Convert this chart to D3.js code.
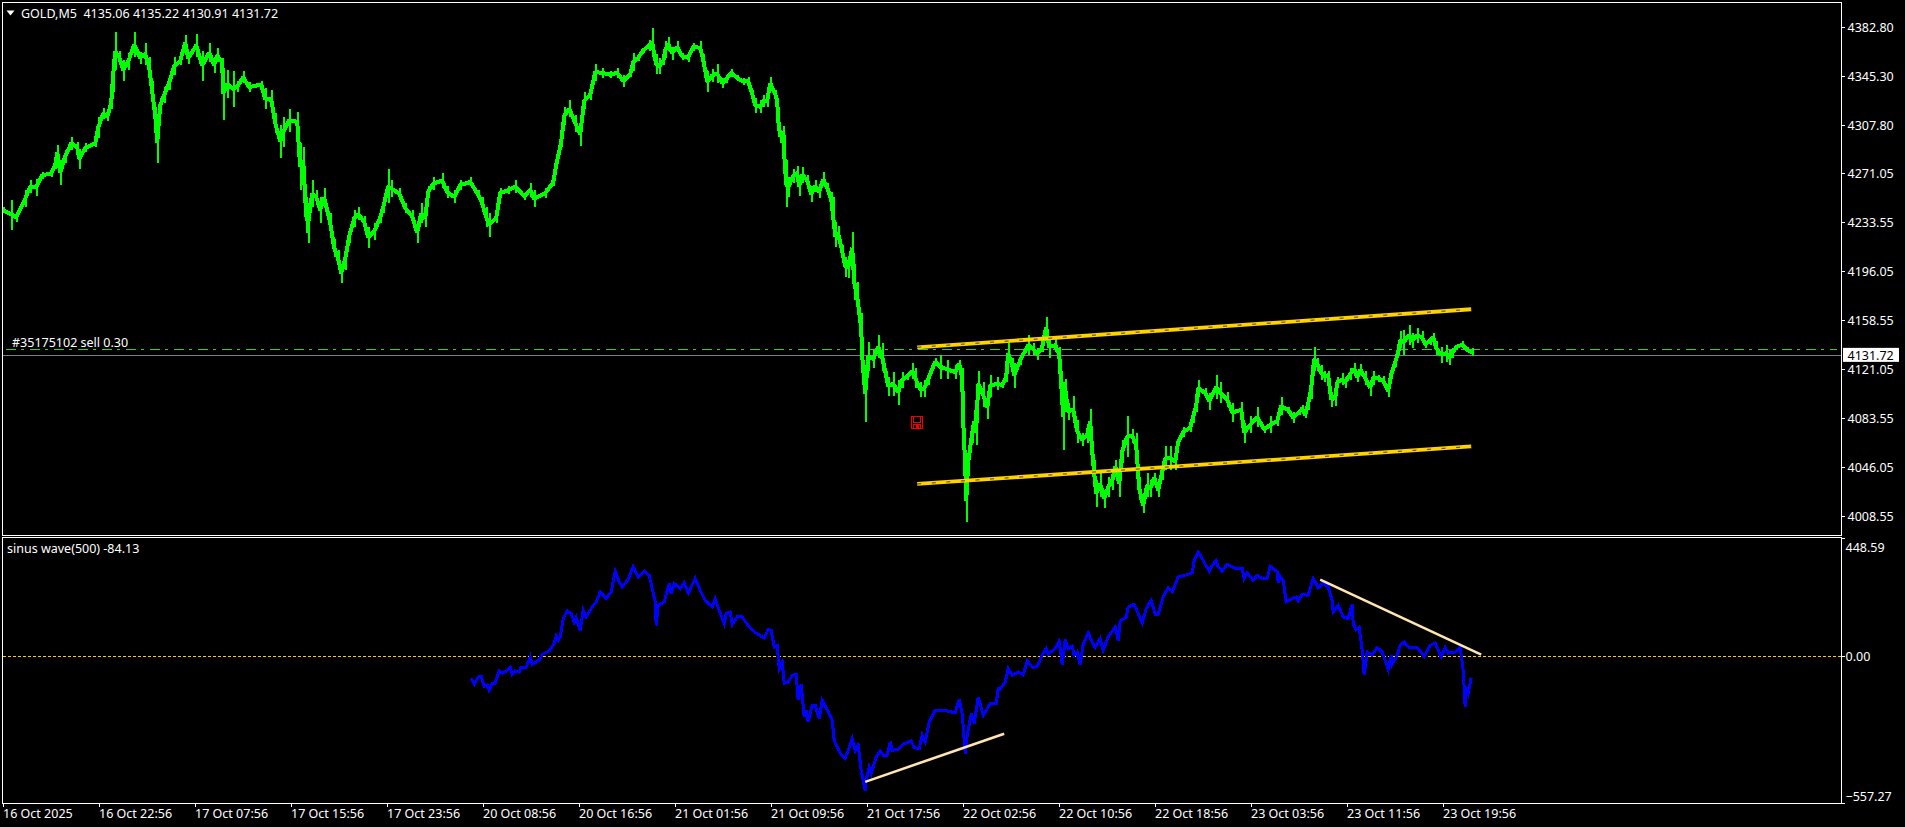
<!DOCTYPE html>
<html><head><meta charset="utf-8">
<script src="https://cdn.jsdelivr.net/npm/d3@7/dist/d3.min.js"></script>
<style>
html,body{margin:0;padding:0;background:#000;overflow:hidden}
text{font-family:"Noto Sans",Tahoma,sans-serif;font-size:12.5px;fill:#fff}
</style></head><body><svg id="c" width="1905" height="827"></svg>
<script>
const priceBars=[3,11,16,25,30,36,42,51,55,57,
60,65,71,77,79,85,95,98,103,107,
111,113,115,119,123,128,134,140,145,149,
152,155,157,160,164,169,174,180,185,188,
196,202,209,214,217,222,223,227,233,237,
243,249,261,265,271,275,280,283,289,297,
300,303,306,308,312,316,320,324,330,334,
338,341,345,349,354,358,364,368,374,380,
383,388,391,399,405,412,417,421,425,428,
433,442,447,454,460,470,478,482,486,489,
496,500,508,515,524,530,534,545,553,556,
561,564,569,575,580,584,590,595,602,610,
617,623,630,633,638,643,649,652,656,659,
663,665,668,672,677,682,688,693,700,703,
706,707,712,717,722,726,731,737,743,748,
752,755,760,763,767,770,775,777,778,780,
783,784,786,788,793,797,799,802,807,811,
815,819,823,827,831,833,835,838,842,845,
848,852,854,857,861,862,865,868,873,878,
882,886,888,893,898,902,907,912,915,920,
924,928,935,940,947,955,959,962,963,965,
966,968,972,974,976,978,983,987,990,997,
1002,1006,1008,1012,1014,1020,1028,1033,1037,1042,
1046,1049,1055,1059,1061,1063,1065,1068,1073,1077,
1082,1087,1090,1092,1094,1096,1100,1104,1108,1112,
1115,1119,1122,1127,1132,1136,1139,1143,1147,1150,
1154,1158,1162,1165,1170,1175,1178,1183,1190,1193,
1196,1198,1205,1209,1216,1220,1227,1232,1241,1244,
1250,1257,1264,1270,1277,1281,1288,1293,1299,1302,
1305,1308,1311,1314,1317,1321,1324,1328,1331,1335,
1337,1342,1345,1350,1354,1357,1360,1365,1370,1373,
1378,1383,1388,1391,1395,1398,1400,1403,1409,1412,
1417,1422,1425,1430,1433,1436,1441,1446,1449,1452,
1456,1462,1467,1472];
const priceHigh=[4245,4251,4241,4258,4266,4267,4272,4274,4281,4293,
4281,4289,4299,4295,4290,4294,4297,4314,4321,4317,
4330,4360,4379,4365,4358,4363,4379,4364,4371,4360,
4342,4322,4310,4329,4337,4346,4360,4360,4377,4363,
4378,4365,4371,4360,4367,4359,4352,4350,4349,4342,
4349,4341,4342,4336,4335,4317,4308,4314,4320,4318,
4294,4291,4253,4248,4266,4258,4253,4260,4241,4221,
4212,4202,4214,4228,4243,4245,4238,4230,4233,4241,
4249,4274,4266,4260,4248,4243,4233,4248,4243,4261,
4268,4271,4261,4258,4266,4268,4258,4253,4245,4241,
4241,4260,4261,4266,4256,4264,4258,4260,4267,4281,
4299,4322,4327,4316,4310,4333,4335,4355,4352,4349,
4352,4346,4349,4363,4362,4367,4373,4382,4362,4359,
4359,4372,4375,4368,4372,4363,4363,4371,4372,4362,
4350,4349,4351,4355,4344,4346,4351,4346,4344,4345,
4335,4329,4327,4331,4331,4345,4335,4329,4322,4304,
4307,4300,4281,4268,4274,4277,4268,4276,4270,4261,
4266,4262,4272,4264,4257,4253,4234,4231,4216,4207,
4208,4226,4202,4188,4164,4141,4123,4142,4136,4147,
4141,4120,4115,4119,4113,4119,4118,4126,4122,4111,
4113,4118,4130,4132,4128,4124,4128,4122,4103,4059,
4036,4059,4080,4090,4085,4120,4111,4100,4117,4115,
4111,4119,4141,4130,4126,4132,4147,4141,4137,4142,
4161,4146,4145,4138,4120,4111,4114,4095,4101,4082,
4072,4077,4091,4065,4052,4036,4044,4029,4039,4042,
4052,4044,4067,4085,4075,4072,4039,4023,4042,4036,
4042,4034,4049,4062,4062,4057,4069,4077,4080,4090,
4098,4113,4107,4103,4117,4111,4104,4095,4096,4080,
4085,4092,4078,4085,4085,4100,4092,4088,4091,4094,
4088,4100,4115,4138,4130,4124,4120,4120,4104,4105,
4115,4118,4115,4122,4126,4119,4125,4120,4113,4120,
4117,4116,4109,4120,4130,4136,4150,4151,4155,4149,
4153,4150,4143,4146,4149,4143,4138,4140,4136,4137,
4140,4143,4138,4137];
const priceLow=[4241,4228,4234,4245,4256,4254,4267,4268,4274,4281,
4262,4279,4289,4287,4274,4287,4291,4298,4313,4311,
4320,4333,4350,4355,4342,4350,4360,4355,4354,4344,
4325,4310,4279,4317,4325,4335,4346,4354,4365,4355,
4360,4342,4356,4348,4356,4352,4312,4329,4322,4333,
4340,4333,4336,4320,4320,4302,4283,4291,4303,4303,
4258,4271,4225,4218,4245,4248,4233,4245,4225,4207,
4199,4187,4197,4218,4230,4235,4230,4214,4220,4233,
4241,4248,4253,4251,4241,4233,4218,4233,4230,4253,
4258,4260,4252,4248,4258,4261,4251,4243,4230,4222,
4233,4252,4255,4256,4251,4253,4245,4252,4261,4274,
4291,4308,4314,4303,4292,4320,4327,4342,4344,4344,
4344,4337,4345,4349,4357,4363,4365,4360,4347,4347,
4354,4359,4365,4358,4364,4358,4356,4365,4362,4354,
4341,4333,4341,4340,4336,4340,4345,4342,4339,4338,
4329,4317,4317,4322,4322,4335,4329,4324,4302,4294,
4299,4271,4245,4253,4264,4266,4254,4264,4261,4249,
4257,4252,4261,4256,4245,4222,4215,4218,4207,4192,
4191,4202,4174,4165,4141,4122,4081,4120,4122,4130,
4120,4111,4101,4101,4094,4107,4113,4114,4107,4100,
4100,4109,4124,4114,4114,4114,4123,4107,4059,4038,
4004,4040,4065,4072,4063,4100,4092,4083,4100,4105,
4107,4111,4126,4119,4107,4124,4132,4132,4128,4134,
4146,4130,4134,4127,4100,4059,4098,4082,4080,4065,
4062,4065,4072,4052,4031,4016,4023,4015,4023,4029,
4042,4023,4049,4054,4065,4054,4021,4011,4023,4023,
4034,4023,4036,4044,4044,4044,4062,4069,4073,4080,
4088,4100,4099,4090,4098,4095,4092,4081,4084,4065,
4072,4077,4072,4072,4078,4086,4088,4080,4086,4088,
4084,4090,4098,4120,4120,4113,4111,4113,4092,4093,
4107,4109,4107,4113,4117,4111,4117,4109,4101,4109,
4111,4109,4100,4114,4123,4132,4137,4132,4140,4137,
4141,4141,4137,4140,4142,4132,4126,4127,4124,4130,
4136,4137,4134,4131];
const waveBars=[471,474,478,481,484,487,489,492,495,499,502,506,510,512,515,519,521,526,530,532,536,539,542,549,554,556,558,560,563,567,571,574,576,580,583,586,592,596,600,606,611,615,619,622,628,633,638,644,649,655,656,658,664,669,671,674,680,684,688,695,700,705,712,715,719,724,726,730,732,737,742,749,755,764,768,771,774,777,779,782,784,788,792,796,798,801,804,806,808,812,815,819,822,828,832,834,837,840,845,848,852,855,858,861,865,866,869,871,876,880,883,887,890,892,898,903,911,914,919,922,925,929,935,944,955,959,962,965,967,971,974,978,983,990,996,998,1000,1005,1008,1012,1018,1023,1027,1033,1037,1042,1046,1048,1055,1059,1062,1065,1068,1072,1074,1077,1080,1083,1088,1091,1095,1100,1103,1108,1115,1118,1120,1126,1128,1134,1138,1142,1146,1151,1155,1158,1163,1168,1172,1178,1185,1192,1194,1198,1202,1205,1209,1212,1216,1218,1222,1227,1235,1242,1244,1247,1253,1257,1262,1267,1270,1277,1278,1280,1283,1286,1292,1296,1298,1302,1308,1313,1318,1323,1328,1332,1333,1338,1343,1348,1352,1353,1356,1359,1362,1364,1367,1372,1377,1382,1388,1391,1392,1397,1400,1404,1408,1417,1424,1430,1435,1441,1445,1448,1455,1460,1463,1465,1466,1468,1471];
const waveValues=[-83,-105,-78,-75,-113,-109,-128,-101,-101,-55,-63,-55,-40,-68,-55,-59,-41,-41,-2,-30,-21,-14,8,21,49,77,61,74,144,173,163,131,148,99,175,150,188,207,245,220,245,324,283,264,292,342,302,324,308,207,118,194,207,277,239,277,258,279,241,296,251,213,188,220,175,125,163,169,122,150,150,112,91,70,103,99,36,42,-46,-21,-101,-97,-71,-68,-166,-105,-230,-204,-249,-185,-185,-236,-166,-211,-242,-318,-343,-368,-387,-356,-312,-356,-337,-432,-510,-470,-419,-444,-381,-359,-375,-375,-324,-356,-353,-333,-321,-346,-350,-299,-324,-249,-204,-204,-214,-162,-217,-368,-299,-217,-255,-154,-223,-179,-179,-122,-124,-97,-46,-71,-59,-69,-18,-42,-37,5,30,8,31,58,-30,64,30,39,5,17,-30,46,89,64,34,68,24,74,112,61,134,150,188,198,163,127,182,213,160,160,226,261,245,302,308,317,365,397,372,350,324,346,365,340,324,350,334,334,296,317,289,308,296,296,342,321,279,304,289,207,220,226,211,236,232,296,261,279,264,213,169,194,150,144,198,125,102,110,24,-71,17,5,34,17,-49,5,-30,5,42,55,36,34,1,42,51,-2,34,13,17,34,-52,-192,-116,-139,-80];
const priceTicks=[4382.80,4345.30,4307.80,4271.05,4233.55,4196.05,4158.55,4121.05,4083.55,4046.05,4008.55];
const waveTicks=[448.59,0,-557.27];
const timeLabels=["16 Oct 2025","16 Oct 22:56","17 Oct 07:56","17 Oct 15:56","17 Oct 23:56","20 Oct 08:56","20 Oct 16:56","21 Oct 01:56","21 Oct 09:56","21 Oct 17:56","22 Oct 02:56","22 Oct 10:56","22 Oct 18:56","23 Oct 03:56","23 Oct 11:56","23 Oct 19:56"];
const timeTickBars=[3,99,195,291,387,483,579,675,771,867,963,1059,1155,1251,1347,1443];
const channelBars=[917,1471];
const channelUpper=[4137.9,4167];
const channelLower=[4033.3,4062];
const waveTrendA={bars:[865,1004],values:[-476,-293]};
const waveTrendB={bars:[1320,1481],values:[292,7]};
const bidPrice=4131.72, orderPrice=4136.4;
const markerBar=[917], markerPrice=[4080];

const svg=d3.select("#c");
const x=d3.scaleLinear().domain([3,1443]).range([3.2,1443.2]);
const y=d3.scaleLinear().domain([4008.55,4382.80]).range([516.3,27.3]);
const yw=d3.scaleLinear().domain([-557.27,448.59]).range([803.3,538.3]);
const L=2.5,R=1841.5,T1=2.5,B1=535.5,T2=537.5,B2=803.5;
const prices=priceBars.map((b,i)=>({b,h:priceHigh[i],l:priceLow[i]}));
const waves=waveBars.map((b,i)=>({b,v:waveValues[i]}));

// grey bid + order lines
svg.append("line").attr("x1",L).attr("x2",R).attr("y1",y(bidPrice)).attr("y2",y(bidPrice))
  .attr("stroke","#778088").attr("stroke-width",1).attr("shape-rendering","crispEdges");
svg.append("line").attr("x1",6).attr("x2",1837).attr("y1",y(orderPrice)).attr("y2",y(orderPrice))
  .attr("stroke","#32cd32").attr("stroke-width",1).attr("stroke-dasharray","10 5 3 6").attr("shape-rendering","crispEdges");

// price: a core line through the bars' mid values plus each sampled high-low bar
svg.append("path").datum(prices)
  .attr("d",d3.line().x(d=>x(d.b)).y(d=>y((d.h+d.l)/2)))
  .attr("fill","none").attr("stroke","#00ff00").attr("stroke-width",4).attr("stroke-linejoin","bevel").attr("shape-rendering","crispEdges");
svg.append("g").selectAll("line").data(prices).join("line")
  .attr("x1",d=>Math.round(x(d.b))+.5).attr("x2",d=>Math.round(x(d.b))+.5)
  .attr("y1",d=>y(d.h)).attr("y2",d=>y(d.l))
  .attr("stroke","#00ff00").attr("stroke-width",2).attr("shape-rendering","crispEdges");

// channel
[channelUpper,channelLower].forEach(c=>{
  const ln=d3.line().x((d,i)=>x(channelBars[i])).y(d=>y(d));
  svg.append("path").datum(c).attr("d",ln).attr("fill","none").attr("stroke","#ffd200").attr("stroke-width",3.8);
  svg.append("path").datum(c).attr("d",ln).attr("fill","none").attr("stroke","#000").attr("stroke-width",.7).attr("stroke-dasharray","4 10.6");
});

// marker
const mx=x(markerBar[0]),my=y(markerPrice[0]);
const m=svg.append("g").attr("transform",`translate(${mx-5.5},${my-6})`).attr("fill","none").attr("stroke","#f00000").attr("shape-rendering","crispEdges");
m.append("rect").attr("x",0).attr("y",0).attr("width",11).attr("height",12);
m.append("rect").attr("x",2).attr("y",0).attr("width",7).attr("height",6);
m.append("rect").attr("x",2).attr("y",8).attr("width",7).attr("height",4);
m.append("rect").attr("x",5).attr("y",9).attr("width",2).attr("height",3).attr("fill","#f00");

// wave panel
svg.append("line").attr("x1",L).attr("x2",R).attr("y1",yw(0)).attr("y2",yw(0))
  .attr("stroke","#ffc800").attr("stroke-width",1).attr("stroke-dasharray","3 2").attr("shape-rendering","crispEdges");
svg.append("path").datum(waves)
  .attr("d",d3.line().x(d=>x(d.b)).y(d=>yw(d.v)))
  .attr("fill","none").attr("stroke","#0000ff").attr("stroke-width",3).attr("stroke-linejoin","miter").attr("shape-rendering","crispEdges");
[waveTrendA,waveTrendB].forEach(t=>{
  svg.append("path").datum(t.values)
    .attr("d",d3.line().x((d,i)=>x(t.bars[i])).y(d=>yw(d)))
    .attr("fill","none").attr("stroke","#ffe4b5").attr("stroke-width",2.6);
});

// frames
[[T1,B1],[T2,B2]].forEach(([a,b])=>{
  svg.append("rect").attr("x",L).attr("y",a).attr("width",R-L).attr("height",b-a)
   .attr("fill","none").attr("stroke","#fff").attr("stroke-width",1).attr("shape-rendering","crispEdges");
});

// axes
function styleAxis(g){g.select(".domain").remove();g.selectAll("line").attr("stroke","#fff").attr("shape-rendering","crispEdges");g.selectAll("text").attr("fill","#fff");}
svg.append("g").attr("transform",`translate(${R},0)`)
  .call(d3.axisRight(y).tickValues(priceTicks).tickSize(3).tickPadding(3).tickFormat(d3.format(".2f"))).call(styleAxis)
  .selectAll("text").style("font-size","12.5px").style("font-family",'"Noto Sans"');
const gw=svg.append("g").attr("transform",`translate(${R},0)`)
  .call(d3.axisRight(yw).tickValues(waveTicks).tickSize(3).tickPadding(1).tickFormat(d3.format(".2f"))).call(styleAxis);
gw.selectAll("text").style("font-size","12.5px").style("font-family",'"Noto Sans"')
  .attr("dy",d=>d===448.59?"1.02em":d===-557.27?"-0.25em":"0.32em");
const gx=svg.append("g").attr("transform",`translate(0,${B2})`)
  .call(d3.axisBottom(x).tickValues(timeTickBars).tickSize(3).tickPadding(3).tickFormat((d,i)=>timeLabels[i])).call(styleAxis);
gx.selectAll("text").attr("text-anchor","start").attr("dx","-0.7").style("font-size","12.5px").style("font-family",'"Noto Sans"');

// bid box
svg.append("rect").attr("x",1843).attr("y",y(bidPrice)-7.5).attr("width",56).attr("height",14).attr("fill","#fff");
svg.append("text").attr("x",1847.5).attr("y",y(bidPrice)+4.5).style("fill","#000").text(d3.format(".2f")(bidPrice));

// labels
svg.append("path").attr("d",d3.line()([[6.5,10.5],[14.5,10.5],[10.5,15.5]])+"Z").attr("fill","#fff");
svg.append("text").attr("x",21).attr("y",17.5).attr("xml:space","preserve").text("GOLD,M5  4135.06 4135.22 4130.91 4131.72");
svg.append("text").attr("x",7).attr("y",553).text("sinus wave(500) -84.13");
svg.append("text").attr("x",12).attr("y",347).text("#35175102 sell 0.30");
</script></body></html>
